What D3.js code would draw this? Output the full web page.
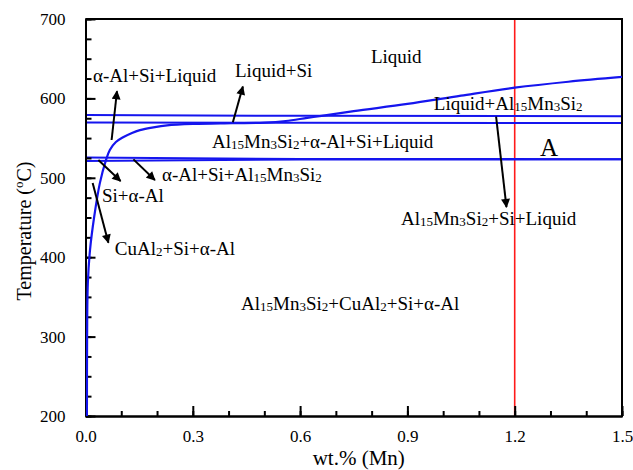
<!DOCTYPE html>
<html>
<head>
<meta charset="utf-8">
<script src="https://cdn.jsdelivr.net/npm/d3@7"></script>
<style>
  html, body { margin: 0; padding: 0; background: #fff; }
  svg text { font-family: "Liberation Serif", "Times New Roman", "DejaVu Serif", serif; }
</style>
</head>
<body>
<svg id="chart" width="633" height="470"></svg>
<script>
// ---------- DATA ----------
const xDomain = [0, 1.5];
const yDomain = [200, 700];
const xMajorTicks = [0.0, 0.3, 0.6, 0.9, 1.2, 1.5];
const xTickLabels = ["0.0", "0.3", "0.6", "0.9", "1.2", "1.5"];
const yMajorTicks = [200, 300, 400, 500, 600, 700];
const yTickLabels = ["200", "300", "400", "500", "600", "700"];

// Al15Mn3Si2 liquidus / solvus curve (wt.% Mn, °C)
const curveMn   = [0.004, 0.0045, 0.0065, 0.0126, 0.024, 0.04, 0.057, 0.068, 0.085, 0.105, 0.13, 0.152, 0.19, 0.228, 0.3, 0.41, 0.5, 0.56, 0.62, 0.66, 0.75, 0.9, 1.05, 1.2, 1.35, 1.5];
const curveTemp = [200, 300, 367, 409, 450, 493, 522, 535, 545, 551, 556.5, 560, 563.5, 566, 567.8, 568.8, 569.5, 571.5, 575.5, 578, 584, 593, 603.5, 613.5, 621, 627];

// Horizontal invariant lines (temperature at lineMn compositions)
const lineMn     = [0, 0.6, 1.5];
const line579    = [579.2, 578.0, 577.6];
const line569    = [569.6, 569.2, 569.0];
const line525    = [525.6, 523.6, 523.5];
const line521    = [521.2, 523.0, 523.3];

// Composition of alloy studied
const alloyMn = 1.2;

// Phase region labels ("|" separates normal / subscript segments)
const labelText = ["Liquid", "Liquid+Si", "α-Al+Si+Liquid", "Liquid+Al|15|Mn|3|Si|2",
  "Al|15|Mn|3|Si|2|+α-Al+Si+Liquid", "A", "α-Al+Si+Al|15|Mn|3|Si|2", "Si+α-Al",
  "CuAl|2|+Si+α-Al", "Al|15|Mn|3|Si|2|+CuAl|2|+Si+α-Al", "Al|15|Mn|3|Si|2|+Si+Liquid"];
const labelMn   = [0.798, 0.418, 0.021, 0.974, 0.354, 1.271, 0.214, 0.046, 0.082, 0.435, 0.882];
const labelTemp = [644.6, 627.0, 620.9, 585.4, 537.5, 527.5, 496.0, 469.5, 402.8, 333.5, 440.6];

// Arrows: from -> to (wt.% Mn, °C)
const arrowFromMn   = [0.073, 0.412, 0.036, 0.134, 0.020, 1.148];
const arrowFromTemp = [547.6, 570.0, 522.4, 523.2, 493.5, 577.0];
const arrowToMn     = [0.088, 0.440, 0.098, 0.194, 0.064, 1.177];
const arrowToTemp   = [609.0, 614.9, 495.9, 497.2, 418.3, 463.2];

// ---------- CHART ----------
const FONT = "'Liberation Serif', 'Times New Roman', 'DejaVu Serif', serif";
const svg = d3.select("#chart");
const L = 85.5, R = 622, T = 19, B = 416;
const x = d3.scaleLinear().domain(xDomain).range([L, R]);
const y = d3.scaleLinear().domain(yDomain).range([B, T]);

const defs = svg.append("defs");
defs.append("marker").attr("id", "ah")
  .attr("viewBox", "0 0 10 10").attr("refX", 9).attr("refY", 5)
  .attr("markerUnits", "userSpaceOnUse")
  .attr("markerWidth", 11).attr("markerHeight", 9).attr("orient", "auto")
  .append("path").attr("d", "M0,0 L10,5 L0,10 Z").attr("fill", "#000");

defs.append("clipPath").attr("id", "plotclip")
  .append("rect").attr("x", L).attr("y", T).attr("width", R - L).attr("height", B - T);

const g = svg.append("g").attr("clip-path", "url(#plotclip)");

// red alloy line
g.append("line")
  .attr("x1", x(alloyMn)).attr("x2", x(alloyMn))
  .attr("y1", y(yDomain[1])).attr("y2", y(yDomain[0]))
  .attr("stroke", "#ff1a1a").attr("stroke-width", 1.6);

// horizontal lines
const hl = d3.line().x(d => x(d[0])).y(d => y(d[1]));
[line579, line569, line525, line521].forEach(arr => {
  g.append("path").datum(lineMn.map((m, i) => [m, arr[i]]))
    .attr("d", hl).attr("fill", "none").attr("stroke", "#1515ee").attr("stroke-width", 2);
});

// axes
const xAxis = d3.axisBottom(x).tickValues(xMajorTicks).tickSizeInner(-10).tickSizeOuter(0)
  .tickFormat((d, i) => xTickLabels[i]).tickPadding(14);
const xAxisMinor = d3.axisBottom(x).tickValues(d3.range(0, 1.5001, 0.1)).tickSize(-5).tickSizeOuter(0).tickFormat("");
const yAxis = d3.axisLeft(y).tickValues(yMajorTicks).tickSizeInner(-10).tickSizeOuter(0)
  .tickFormat((d, i) => yTickLabels[i]).tickPadding(20);
const yAxisMinor = d3.axisLeft(y).tickValues(d3.range(200, 701, 25)).tickSize(-6).tickSizeOuter(0).tickFormat("");

function styleAxis(sel) {
  sel.attr("font-family", FONT);
  sel.selectAll("path.domain").attr("stroke", "#000").attr("stroke-width", 2);
  sel.selectAll(".tick line").attr("stroke", "#000").attr("stroke-width", 2);
  sel.selectAll("text").attr("font-family", FONT).attr("font-size", 17).attr("fill", "#000");
}
svg.append("g").attr("transform", `translate(0,${B})`).call(xAxisMinor).call(styleAxis);
svg.append("g").attr("transform", `translate(0,${B})`).call(xAxis).call(styleAxis);
svg.append("g").attr("transform", `translate(${L},0)`).call(yAxisMinor).call(styleAxis);
svg.append("g").attr("transform", `translate(${L},0)`).call(yAxis).call(styleAxis);

// frame top & right
svg.append("line").attr("x1", L).attr("x2", R).attr("y1", T).attr("y2", T).attr("stroke", "#000").attr("stroke-width", 2);
svg.append("line").attr("x1", R).attr("x2", R).attr("y1", T - 1).attr("y2", B + 1).attr("stroke", "#000").attr("stroke-width", 2);

// curve (drawn on top of axis)
svg.append("g").attr("clip-path", "url(#plotclip)")
  .append("path").datum(curveMn.map((m, i) => [m, curveTemp[i]]))
  .attr("d", d3.line().x(d => x(d[0])).y(d => y(d[1])).curve(d3.curveCatmullRom.alpha(0.5)))
  .attr("fill", "none").attr("stroke", "#1515ee").attr("stroke-width", 2.2);

// arrows
arrowFromMn.forEach((m, i) => {
  svg.append("line")
    .attr("x1", x(m)).attr("y1", y(arrowFromTemp[i]))
    .attr("x2", x(arrowToMn[i])).attr("y2", y(arrowToTemp[i]))
    .attr("stroke", "#000").attr("stroke-width", 2)
    .attr("marker-end", "url(#ah)");
});

// labels with subscripts
labelText.forEach((t, i) => {
  const txt = svg.append("text")
    .attr("x", x(labelMn[i])).attr("y", y(labelTemp[i]))
    .attr("font-family", FONT)
    .attr("font-size", t === "A" ? 25 : 19).attr("fill", "#000");
  t.split("|").forEach((seg, j) => {
    if (!seg) return;
    const ts = txt.append("tspan").text(seg);
    if (j % 2 === 1) ts.attr("font-size", 13).attr("dy", 1);
    else if (j > 0) ts.attr("dy", -1);
  });
});

// axis titles
const yt = svg.append("text")
  .attr("transform", `translate(31,231) rotate(-90)`)
  .attr("font-family", FONT)
  .attr("text-anchor", "middle").attr("font-size", 20).attr("fill", "#000");
yt.append("tspan").text("Temperature (");
yt.append("tspan").text("o").attr("font-size", 13).attr("dy", -8);
yt.append("tspan").text("C)").attr("dy", 8);

svg.append("text").attr("x", (L + R) / 2 + 5).attr("y", 465)
  .attr("font-family", FONT)
  .attr("text-anchor", "middle").attr("font-size", 21).attr("fill", "#000")
  .text("wt.% (Mn)");
</script>
</body>
</html>
